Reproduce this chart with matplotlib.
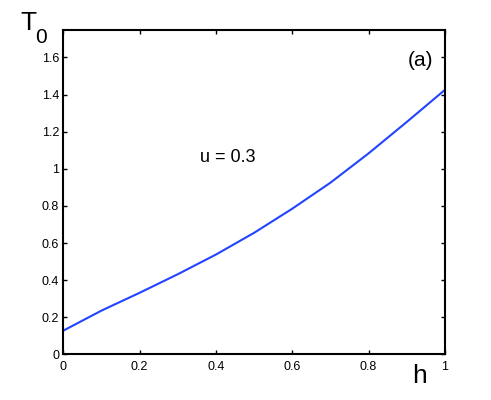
import numpy as np
import matplotlib.pyplot as plt

plt.rcParams['font.family'] = ['Liberation Sans', 'DejaVu Sans']

# values
h = [0.0, 0.1, 0.2, 0.3, 0.4, 0.5, 0.6, 0.7, 0.8, 0.9, 1.0]
T0 = [0.128, 0.236, 0.332, 0.432, 0.538, 0.655, 0.785, 0.925, 1.083, 1.252, 1.425]

xticks = [0, 0.2, 0.4, 0.6, 0.8, 1]
xticklabels = ['0', '0.2', '0.4', '0.6', '0.8', '1']
yticks = [0, 0.2, 0.4, 0.6, 0.8, 1, 1.2, 1.4, 1.6]
yticklabels = ['0', '0.2', '0.4', '0.6', '0.8', '1', '1.2', '1.4', '1.6']

fig = plt.figure(figsize=(4.91, 4.00), dpi=100)
ax = fig.add_axes([0.129, 0.114, 0.777, 0.812])

ax.plot(h, T0, color='#2244ff', lw=1.5)

ax.set_xlim(0, 1)
ax.set_ylim(0, 1.75)
ax.set_xticks(xticks)
ax.set_xticklabels(xticklabels)
ax.set_yticks(yticks)
ax.set_yticklabels(yticklabels)
ax.tick_params(direction='in', length=3, width=1, labelsize=9,
               top=True, right=True)
ax.tick_params(axis='x', pad=5)
ax.tick_params(axis='y', pad=3)
for sp in ax.spines.values():
    sp.set_linewidth(1.5)

ax.text(0.935, 1.585, '(a)', fontsize=15, ha='center', va='center')
ax.text(0.43, 1.063, 'u = 0.3', fontsize=13, ha='center', va='center')

# axis labels placed like the original (T with subscript 0, h at lower right)
fig.text(20 / 491, 1 - 30 / 400, 'T', fontsize=19, ha='left', va='baseline')
fig.text(35 / 491, 1 - 43 / 400, '0', fontsize=15, ha='left', va='baseline')
fig.text(419 / 491, 1 - 383 / 400, 'h', fontsize=19, ha='center', va='baseline')

fig.savefig('out.png', dpi=100)
